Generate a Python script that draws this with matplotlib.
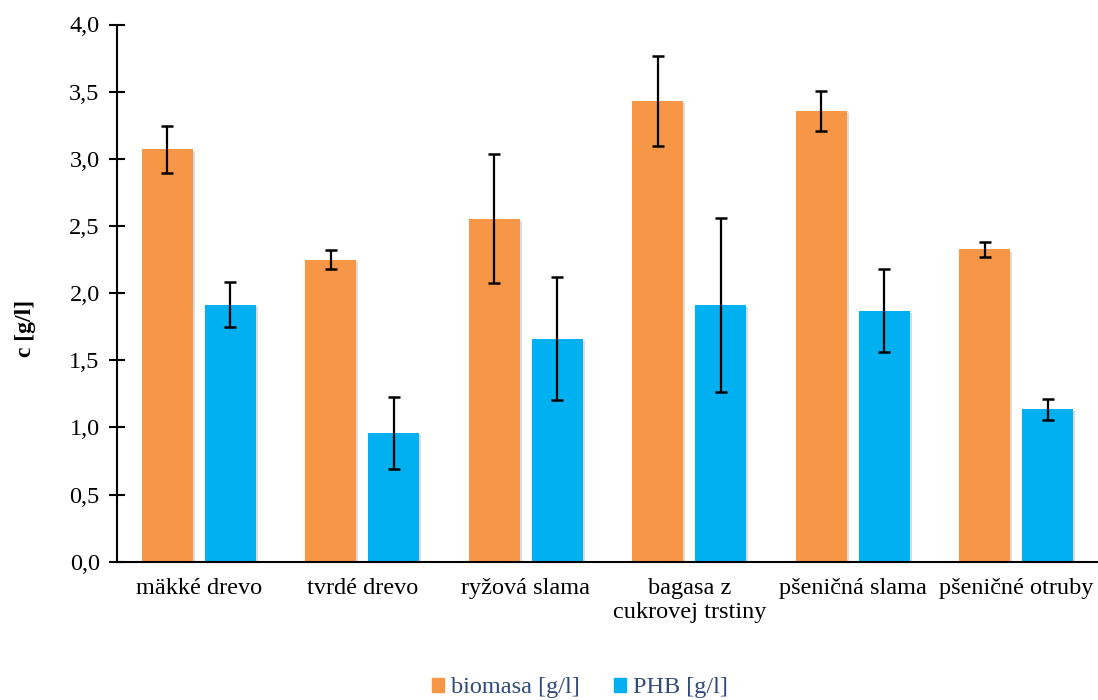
import matplotlib
matplotlib.use("Agg")
import matplotlib.pyplot as plt
import matplotlib.patheffects as pe
import numpy as np
from matplotlib.patches import Patch

categories = ["mäkké drevo", "tvrdé drevo", "ryžová slama", "bagasa z\ncukrovej trstiny",
              "pšeničná slama", "pšeničné otruby"]
biomasa = [3.07, 2.25, 2.555, 3.43, 3.355, 2.325]
biomasa_err = [0.175, 0.072, 0.478, 0.337, 0.149, 0.054]
phb = [1.915, 0.956, 1.661, 1.91, 1.87, 1.135]
phb_err = [0.17, 0.268, 0.46, 0.65, 0.31, 0.08]
yticks = [0.0, 0.5, 1.0, 1.5, 2.0, 2.5, 3.0, 3.5, 4.0]
ytick_labels = ["0,0", "0,5", "1,0", "1,5", "2,0", "2,5", "3,0", "3,5", "4,0"]

c_orange = "#F79646"
c_blue = "#00B0F0"

plt.rcParams['font.family'] = ['Liberation Serif', 'DejaVu Serif']

fig = plt.figure(figsize=(10.98, 7.0), dpi=100)
ax = fig.add_axes([0.1066, 0.1976, 0.8934, 0.7674])

x = np.arange(len(categories))
w = 0.31
off = 0.193
shadow = [pe.SimplePatchShadow(offset=(1.5, -1.5), shadow_rgbFace='#999999', alpha=0.35), pe.Normal()]
b1 = ax.bar(x - off, biomasa, w, color=c_orange, zorder=2)
b2 = ax.bar(x + off, phb, w, color=c_blue, zorder=2)
for b in list(b1) + list(b2):
    b.set_path_effects(shadow)
ax.errorbar(x - off, biomasa, yerr=biomasa_err, fmt='none', ecolor='black',
            elinewidth=1.6, capsize=4.5, capthick=1.8, zorder=3)
ax.errorbar(x + off, phb, yerr=phb_err, fmt='none', ecolor='black',
            elinewidth=1.6, capsize=4.5, capthick=1.8, zorder=3)

ax.set_xlim(-0.5, len(categories) - 0.5)
ax.set_ylim(0, 4.0)
ax.set_yticks(yticks)
ax.set_yticklabels(ytick_labels, fontsize=17.5)
ax.set_xticks(x)
ax.set_xticklabels(categories, fontsize=17.5, linespacing=1.15)
ax.tick_params(axis='x', length=0, pad=12)
ax.tick_params(axis='y', direction='inout', length=11, width=1.5, pad=7)

for s in ['top', 'right']:
    ax.spines[s].set_visible(False)
for s in ['left', 'bottom']:
    ax.spines[s].set_linewidth(1.5)

fig.text(25 / 1098, 1 - 328 / 700, "c [g/l]", rotation=90, fontsize=17,
         fontweight='bold', ha='center', va='center')

handles = [Patch(color=c_orange, label="biomasa [g/l]"),
           Patch(color=c_blue, label="PHB [g/l]")]
leg = fig.legend(handles=handles, loc='center', bbox_to_anchor=(580 / 1098, 1 - 688 / 700),
                 ncol=2, frameon=False, fontsize=17.5, handlelength=0.5, handleheight=0.5,
                 handletextpad=0.3, columnspacing=1.4)
for t in leg.get_texts():
    t.set_color("#2F4A7A")

fig.savefig("out.png", dpi=100)
